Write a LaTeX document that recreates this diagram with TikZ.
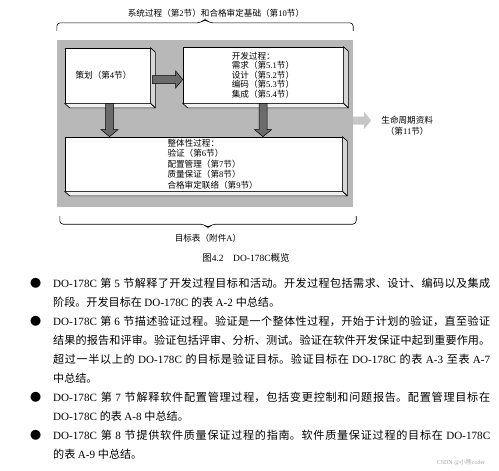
\documentclass[tikz,border=0pt]{standalone}
\usepackage{fontspec}
\setmainfont{Liberation Serif}
\newfontfamily\cjkfont{Noto Sans CJK SC}
\newfontfamily\latinfont{Liberation Serif}
\usetikzlibrary{arrows.meta,positioning,calc}
% CJK / Latin font switching
\newcount\cjkchar
\cjkchar="3000 \loop \XeTeXcharclass\cjkchar=1 \advance\cjkchar 1 \ifnum\cjkchar<"3040 \repeat
\cjkchar="4E00 \loop \XeTeXcharclass\cjkchar=1 \advance\cjkchar 1 \ifnum\cjkchar<"A000 \repeat
\cjkchar="FF00 \loop \XeTeXcharclass\cjkchar=1 \advance\cjkchar 1 \ifnum\cjkchar<"FF60 \repeat
\XeTeXcharclass"25CF=1
\XeTeXinterchartokenstate=1
\XeTeXinterchartoks 0 1 = {\cjkfont}
\XeTeXinterchartoks 4095 1 = {\cjkfont}
\XeTeXinterchartoks 1 0 = {\latinfont}
\XeTeXinterchartoks 4095 0 = {\latinfont}
\XeTeXlinebreaklocale "zh"
\XeTeXlinebreakskip=0pt plus 1pt minus 0.1pt
\newcommand{\notebullet}{\leavevmode\llap{●\hspace{12pt}}}
\newcommand{\blockarrow}[3][blockarr]{%
  \coordinate (q) at ($(#3)!7pt!(#2)$);
  \draw[#1] ($(#2)!4pt!90:(#3)$) -- ($(q)!4pt!90:(#3)$) -- ($(q)!8.5pt!90:(#3)$) -- (#3)
    -- ($(q)!8.5pt!-90:(#3)$) -- ($(q)!4pt!-90:(#3)$) -- ($(#2)!4pt!-90:(#3)$) -- cycle;}
\tikzset{
  panel/.style={rectangle, fill=black!28, draw=none, inner sep=0pt},
  slab/.style={rectangle, draw=black, line width=0.7pt, fill=white, inner sep=0pt,
               font=\fontsize{8.6}{9.4}\selectfont, align=left},
  rightface/.style={draw=black, line width=0.7pt, fill=black!16, line join=round},
  bottomface/.style={draw=black, line width=0.7pt, fill=black!6, line join=round},
  blockarr/.style={draw=black, line width=0.5pt, fill=black!58},
  lightarr/.style={draw=none, fill=black!22},
  bracket/.style={draw=black, line width=0.6pt, rounded corners=3.5pt},
  caplabel/.style={inner sep=0pt, font=\fontsize{8.6}{11}\selectfont, align=center},
  bullettext/.style={anchor=base west, text width=437pt, align=justify, inner sep=0pt,
                     font=\fontsize{11.1}{19}\selectfont},
}
\begin{document}
\begin{tikzpicture}[x=1pt, y=-1pt]
  \useasboundingbox (0,0) rectangle (499,471);
  \node[panel, minimum width=296pt, minimum height=167pt] (panel) at (205,123.5) {};
  \node[slab, minimum width=85pt, minimum height=55pt] (plan) at (107.5,75.5) {策划（第4节）\hspace{8pt}};
  \node[slab, minimum width=160pt, minimum height=56pt] (dev) at (263,75)
    {开发过程：\\需求（第5.1节）\\设计（第5.2节）\\编码（第5.3节）\\集成（第5.4节）};
  \node[slab, minimum width=277pt, minimum height=54pt, font=\fontsize{8.6}{10.5}\selectfont] (integ) at (203.5,164)
    {\hspace{24pt}\parbox{96pt}{\raggedright 整体性过程：\\验证（第6节）\\配置管理（第7节）\\质量保证（第8节）\\合格审定联络（第9节）}};
  \foreach \n in {plan,dev,integ} {
    \draw[rightface] (\n.north east) -- ++(5,4.5) -- ($(\n.south east)+(5,4.5)$) -- (\n.south east) -- cycle;
    \draw[bottomface] (\n.south west) -- (\n.south east) -- ($(\n.south east)+(5,4.5)$) -- ($(\n.south west)+(5,4.5)$) -- cycle;
  }
  % block arrows
  \coordinate (pa) at ($(plan.east)+(2,4)$);
  \coordinate (pb) at (dev.west |- pa);
  \blockarrow{pa}{pb}
  \coordinate (pc) at ($(plan.south)+(2,0)$);
  \coordinate (pd) at (pc |- integ.north);
  \blockarrow{pc}{pd}
  \coordinate (dc) at (dev.south);
  \coordinate (dd) at (dc |- integ.north);
  \blockarrow{dc}{dd}
  \coordinate (la) at ($(panel.east)+(0,-3)$);
  \coordinate (lb) at ($(la)+(18,0)$);
  \blockarrow[lightarr]{la}{lb}
  \node[caplabel, anchor=west, right=10pt of lb, yshift=-5pt] (life) {生命周期资料\\（第11节）};
  % braces
  \coordinate (tbl) at ($(panel.north west)+(0,-9)$);
  \coordinate (tbr) at ($(panel.north east)+(0,-9)$);
  \coordinate (tbm) at ($(panel.north)+(0,-21)$);
  \draw[bracket] (tbl) -- ++(0,-8) -- ($(tbm)+(-4,4)$) -- (tbm) -- ($(tbm)+(4,4)$) -- ($(tbr)+(0,-8)$) -- (tbr);
  \coordinate (bbl) at ($(panel.south west)+(3,9)$);
  \coordinate (bbr) at ($(panel.south east)+(3,9)$);
  \coordinate (bbm) at ($(panel.south)+(3,21)$);
  \draw[bracket] (bbl) -- ++(0,8) -- ($(bbm)+(-4,-4)$) -- (bbm) -- ($(bbm)+(4,-4)$) -- ($(bbr)+(0,8)$) -- (bbr);
  \node[caplabel] (sysl) at (216,13) {系统过程（第2节）和合格审定基础（第10节）};
  \node[caplabel] (tabl) at (208,238) {目标表（附件A）};
  \node[caplabel, font=\fontsize{9.5}{11}\selectfont] (fig) at (246,258) {图4.2\hspace{1em}DO-178C概览};
  % notes below the figure
  \node[bullettext] (notes) at (53,287.5) {%
    \notebullet DO-178C 第 5 节解释了开发过程目标和活动。开发过程包括需求、设计、编码以及集成\linebreak
    阶段。开发目标在 DO-178C 的表 A-2 中总结。\par
    \notebullet DO-178C 第 6 节描述验证过程。验证是一个整体性过程，开始于计划的验证，直至验证\linebreak
    结果的报告和评审。验证包括评审、分析、测试。验证在软件开发保证中起到重要作用。\linebreak
    超过一半以上的 DO-178C 的目标是验证目标。验证目标在 DO-178C 的表 A-3 至表 A-7\linebreak
    中总结。\par
    \notebullet DO-178C 第 7 节解释软件配置管理过程，包括变更控制和问题报告。配置管理目标在\linebreak
    DO-178C 的表 A-8 中总结。\par
    \notebullet DO-178C 第 8 节提供软件质量保证过程的指南。软件质量保证过程的目标在 DO-178C\linebreak
    的表 A-9 中总结。};
  \node[inner sep=0pt, font=\fontsize{6}{6}\selectfont, text=black!35] (mark) at (461,463) {CSDN @小熊coder};
\end{tikzpicture}
\end{document}
